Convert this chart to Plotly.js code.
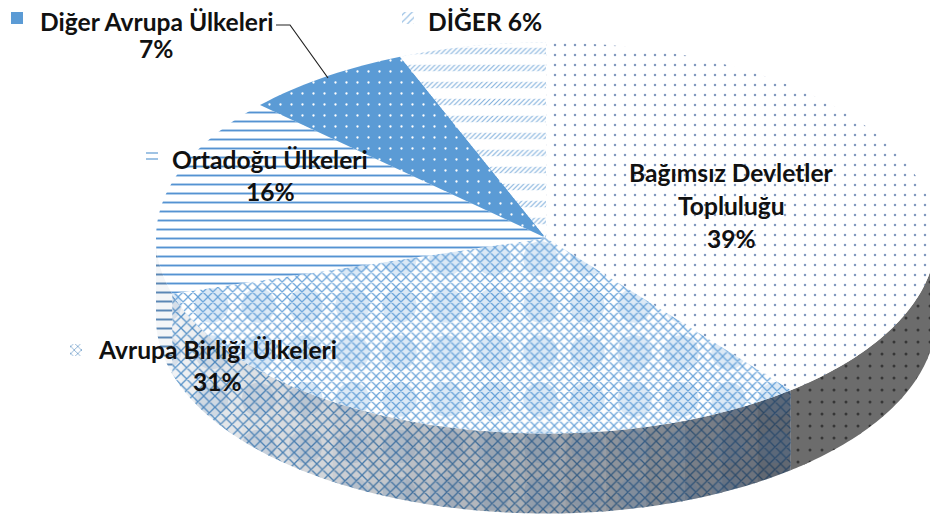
<!DOCTYPE html>
<html><head><meta charset="utf-8">
<script src="https://cdn.plot.ly/plotly-3.0.1.min.js"></script>
<style>html,body{margin:0;padding:0;background:#fff}#c{width:930px;height:516px}</style>
</head><body><div id="c"></div>
<script>
// Data
const categories = ["Bağımsız Devletler Topluluğu","Avrupa Birliği Ülkeleri","Ortadoğu Ülkeleri","Diğer Avrupa Ülkeleri","DİĞER"];
const values = [39.2, 31.2, 16.5, 7.0, 6.1];
const labelLines = [["Bağımsız Devletler","Topluluğu","39%"],["Avrupa Birliği Ülkeleri","31%"],["Ortadoğu Ülkeleri","16%"],["Diğer Avrupa Ülkeleri","7%"],["DİĞER 6%"]];

// Projection of the tilted disc into the 930x516 plot
const cx=546, cy=238, rx=390, ry=195.5, depth=80;
const BLUE="#5b9bd5";
const total=values.reduce((a,b)=>a+b,0);
const px=a=>cx+rx*Math.sin(a*Math.PI/180), py=a=>cy-ry*Math.cos(a*Math.PI/180);
const arc=(a,b,n,dy=0)=>{const xs=[],ys=[];for(let i=0;i<=n;i++){const t=a+(b-a)*i/n;xs.push(px(t));ys.push(py(t)+dy);}return[xs,ys];};
let run=0; const spans=values.map(v=>{const s=[run/total*360,(run+v)/total*360];run+=v;return s;});

const traces=[];
const poly=(x,y,p)=>traces.push({type:"scatter",mode:"none",x:x.concat(x[0]),y:y.concat(y[0]),fill:"toself",fillcolor:"rgba(0,0,0,0)",fillpattern:p,hoverinfo:"skip",showlegend:false});
const mix=(c1,c2,t)=>{const h=c=>[1,3,5].map(i=>parseInt(c.substr(i,2),16));const A=h(c1),B=h(c2);return "rgb("+A.map((v,i)=>Math.round(v+(B[i]-v)*t)).join(",")+")";};

// Fill styles per slice (top face layers)
const faceStyles=[
 [{shape:".",size:10,solidity:.05,fgcolor:"#8098bd",bgcolor:"#ffffff"}],
 [{shape:"x",size:7,solidity:.32,fgcolor:"#6ca5da",bgcolor:"#ffffff"},
  {shape:".",size:47,solidity:.42,fgcolor:BLUE,fgopacity:.22,bgcolor:"rgba(0,0,0,0)"}],
 [{shape:"-",size:9,solidity:.21,fgcolor:"#5593d2",bgcolor:"#ffffff"}],
 [{shape:".",size:11,solidity:.035,fgcolor:"#ffffff",bgcolor:BLUE}],
 [{shape:"/",size:3.5,solidity:.3,fgcolor:"#7fafdc",bgcolor:"#ffffff"},
  {shape:"-",size:17,solidity:.62,fgcolor:"#ffffff",bgcolor:"rgba(0,0,0,0)"}]
];

// Side wall, visible from 90deg to 270deg, shaded in strips
function wall(a,b){
  const [x1,y1]=arc(a,b,6), [x2,y2]=arc(b,a,6,depth);
  return [x1.concat(x2),y1.concat(y2)];
}
const STEP=6;
spans.forEach((s,i)=>{
  const lo=Math.max(s[0],90), hi=Math.min(s[1],270);
  if(hi<=lo) return;
  for(let a=lo;a<hi;a+=STEP){
    const b=Math.min(a+STEP+.6,hi), t=(270-a)/130; // 0 at left, 1 toward the front right
    const [x,y]=wall(a,b);
    if(i===0){
      poly(x,y,{shape:".",size:12,solidity:.05,fgcolor:"#363636",bgcolor:"#6c6c6c"});
    }else if(i===1){
      const k=Math.min(t,1);
      poly(x,y,{shape:"x",size:8,solidity:.3,fgcolor:mix("#5b9bd5","#2b4663",Math.pow(k,1.3)),bgcolor:mix("#f7f9fb","#5f6670",Math.pow(k,1.7))});
      poly(x,y,{shape:".",size:47,solidity:.4,fgcolor:"#3a6ea5",fgopacity:.14,bgcolor:"rgba(0,0,0,0)"});
    }else{
      poly(x,y,{shape:"-",size:9,solidity:.22,fgcolor:"#5b87b5",bgcolor:"#f4f6f8"});
    }
  }
});

// Top face
spans.forEach((s,i)=>{
  const [xa,ya]=arc(s[0],s[1],Math.ceil((s[1]-s[0])/1.5));
  faceStyles[i].forEach(p=>poly([cx].concat(xa),[cy].concat(ya),p));
});

// Legend keys beside the labels
const keyAt=[null,[76,350],[152,157],[17,18],[408,18]];
const keyStyles=[null,
 {shape:"x",size:5,solidity:.3,fgcolor:"#7fa8cf",bgcolor:"#ffffff"},
 {shape:"-",size:6,solidity:.25,fgcolor:"#7fafdc",bgcolor:"#ffffff"},
 {shape:"",fgcolor:BLUE,bgcolor:BLUE},
 {shape:"/",size:5,solidity:.25,fgcolor:"#9cc2e5",bgcolor:"#ffffff"}];
keyAt.forEach((k,i)=>{ if(!k) return; const h=6;
  const p=keyStyles[i];
  traces.push({type:"scatter",mode:"none",x:[k[0]-h,k[0]+h,k[0]+h,k[0]-h,k[0]-h],y:[k[1]-h,k[1]-h,k[1]+h,k[1]+h,k[1]-h],fill:"toself",
    fillcolor:p.shape?"rgba(0,0,0,0)":BLUE,fillpattern:p.shape?p:undefined,hoverinfo:"skip",showlegend:false});
});

// Labels
const labelPos=[[731,[172,205,238]],[217,[349,381]],[270,[159,191]],[156,[21,48]],[485,[21]]];
const annotations=[];
labelLines.forEach((ls,i)=>ls.forEach((t,j)=>annotations.push({xref:"x",yref:"y",x:labelPos[i][0],y:labelPos[i][1][j],text:t,showarrow:false,xanchor:"center",yanchor:"middle",
  font:{family:"Lato, 'Open Sans', sans-serif",size:24.6,color:"#111111",weight:700}})));

const layout={width:930,height:516,margin:{l:0,r:0,t:0,b:0},paper_bgcolor:"#fff",plot_bgcolor:"#fff",showlegend:false,
 xaxis:{range:[0,930],visible:false,fixedrange:true},
 yaxis:{range:[516,0],visible:false,fixedrange:true},
 annotations,
 shapes:[{type:"path",xref:"x",yref:"y",path:"M276,25 L290,25 L328,78",line:{color:"#222",width:1.2}}]};
Plotly.newPlot("c",traces,layout,{displayModeBar:false,staticPlot:true});
</script></body></html>
